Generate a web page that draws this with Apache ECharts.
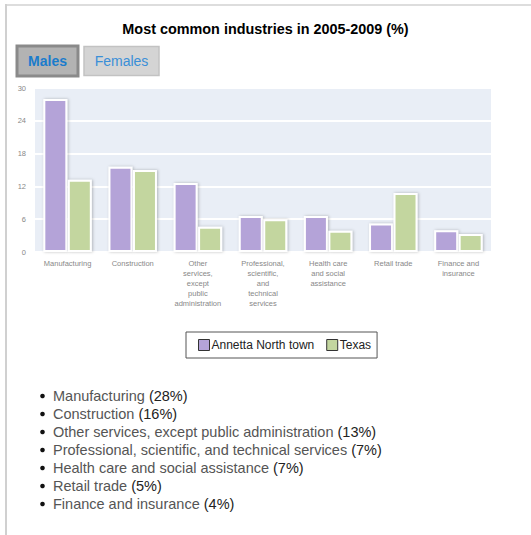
<!DOCTYPE html>
<html><head><meta charset="utf-8">
<script src="https://cdn.jsdelivr.net/npm/echarts@6/dist/echarts.min.js"></script>
<style>html,body{margin:0;padding:0;background:#fff;}#c{width:531px;height:535px;}</style>
</head><body><div id="c"></div>
<script>
const categories = ["Manufacturing","Construction","Other services, except public administration","Professional, scientific, and technical services","Health care and social assistance","Retail trade","Finance and insurance"];
const tickLabels = ["Manufacturing","Construction","Other\nservices,\nexcept\npublic\nadministration","Professional,\nscientific,\nand\ntechnical\nservices","Health care\nand social\nassistance","Retail trade","Finance and\ninsurance"];
const annetta = [28.0, 15.6, 12.6, 6.6, 6.6, 5.2, 4.0];
const texas = [13.2, 15.0, 4.6, 6.0, 3.9, 10.8, 3.3];
const listPercents = [28, 16, 13, 7, 7, 5, 4];
const seriesNames = ["Annetta North town", "Texas"];
const yTicks = [0, 6, 12, 18, 24, 30];

const FONT = '"Liberation Sans", Arial, Helvetica, sans-serif';
const chart = echarts.init(document.getElementById('c'), null, {renderer: 'svg'});

const listGraphics = [];
categories.forEach((c, i) => {
  listGraphics.push({type: 'circle', shape: {cx: 42.5, cy: 396 + i * 18, r: 2.3}, style: {fill: '#111'}});
  listGraphics.push({type: 'text', x: 53, y: 396 + i * 18, style: {
    text: '{n|' + c + '} {p|(' + listPercents[i] + '%)}',
    verticalAlign: 'middle', font: '14.5px ' + FONT,
    rich: {n: {fill: '#555', fontSize: 14.5, fontFamily: FONT}, p: {fill: '#222', fontSize: 14.5, fontFamily: FONT}}
  }});
});

const barStyle = (color) => ({
  color: color, borderColor: '#fff', borderWidth: 2,
  shadowColor: 'rgba(0,0,0,0.25)', shadowBlur: 3, shadowOffsetX: 1, shadowOffsetY: 0
});

chart.setOption({
  animation: false,
  textStyle: {fontFamily: FONT},
  title: {
    text: 'Most common industries in 2005-2009 (%)',
    left: 'center', top: 17,
    textStyle: {fontSize: 14.4, fontWeight: 'bold', color: '#000', fontFamily: FONT}
  },
  legend: {
    data: seriesNames,
    left: 186, top: 332,
    orient: 'horizontal',
    icon: 'rect', itemWidth: 11, itemHeight: 11, itemGap: 12,
    borderColor: '#555', borderWidth: 1, padding: [7, 6, 7, 12],
    textStyle: {fontSize: 12, color: '#222', fontFamily: FONT, padding: [0, 0, 0, -3]},
    itemStyle: {borderColor: '#333', borderWidth: 1}
  },
  grid: {
    left: 35, right: 40, top: 88, bottom: 283,
    show: true, backgroundColor: '#e9eef6', borderWidth: 0
  },
  xAxis: {
    type: 'category', data: categories,
    axisLine: {show: false}, axisTick: {show: false},
    axisLabel: {
      interval: 0, fontSize: 7.5, lineHeight: 10, color: '#888', margin: 6,
      formatter: (v, i) => tickLabels[i]
    }
  },
  yAxis: {
    type: 'value', min: yTicks[0], max: yTicks[yTicks.length - 1], interval: 6,
    axisLine: {show: false}, axisTick: {show: false},
    axisLabel: {fontSize: 7.5, color: '#888', margin: 9},
    splitLine: {lineStyle: {color: '#fff', width: 2}}
  },
  series: [
    {name: seriesNames[0], type: 'bar', data: annetta, barWidth: 24, barGap: '2%', itemStyle: barStyle('#b4a3d8')},
    {name: seriesNames[1], type: 'bar', data: texas, barWidth: 24, barGap: '2%', itemStyle: barStyle('#c3d69f')}
  ],
  graphic: [
    {type: 'rect', shape: {x: 5, y: 4, width: 540, height: 2}, style: {fill: '#ddd'}, silent: true},
    {type: 'rect', shape: {x: 5, y: 4, width: 2, height: 540}, style: {fill: '#d0d0d0'}, silent: true},
    {type: 'rect', shape: {x: 17, y: 46, width: 61, height: 30}, style: {fill: '#b3b3b3', stroke: '#8a8a8a', lineWidth: 3}},
    {type: 'text', x: 47.5, y: 61, style: {text: 'Males', font: 'bold 14px ' + FONT, fill: '#1b7ccc', align: 'center', verticalAlign: 'middle'}},
    {type: 'rect', shape: {x: 84, y: 46.5, width: 75, height: 29}, style: {fill: '#d4d4d4', stroke: '#c2c2c2', lineWidth: 1.5}},
    {type: 'text', x: 121.5, y: 61, style: {text: 'Females', font: '14px ' + FONT, fill: '#3a8fd8', align: 'center', verticalAlign: 'middle'}}
  ].concat(listGraphics)
});
</script>
</body></html>
